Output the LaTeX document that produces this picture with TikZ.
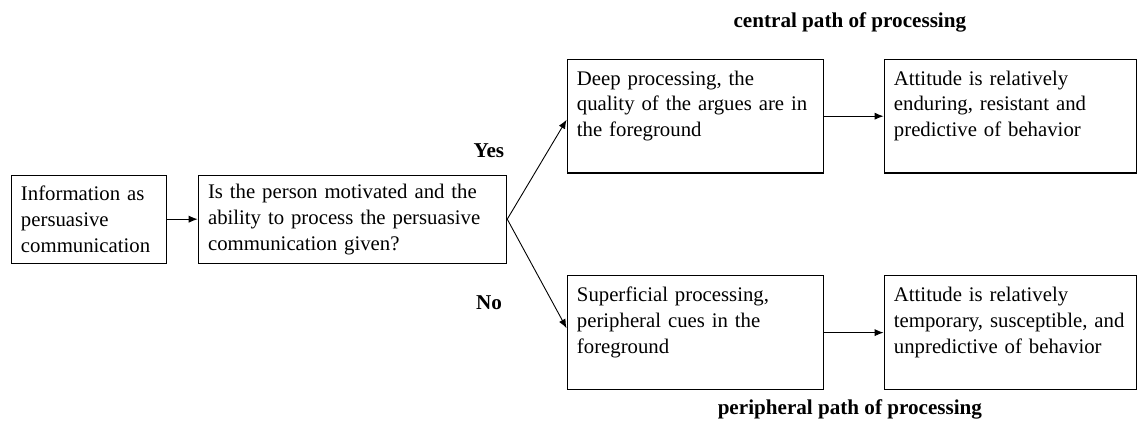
\documentclass[tikz,border=0pt]{standalone}
\usepackage{fontspec}
\setmainfont{Liberation Serif}
\usetikzlibrary{arrows.meta,positioning}

\begin{document}
\begin{tikzpicture}[
  box/.style={draw,line width=0.6pt,align=left,inner xsep=5.5pt,inner ysep=0pt,minimum height=1.727cm,font=\fontsize{11.6}{14.5}\selectfont},
  tall/.style={box,minimum height=2.23cm},
  lbl/.style={font=\fontsize{11.8}{14.5}\selectfont\bfseries},
  arr/.style={-{Latex[length=5pt,width=4pt]},line width=0.5pt}]
\useasboundingbox (0,0) rectangle (22.34,8.66);
\node[box,text width=2.67cm] (info) at (1.747,4.357) {Information as\\ persuasive\\ communication};
\node[box,text width=5.67cm] (ask) at (6.919,4.357) {Is the person motivated and the\\ ability to process the persuasive\\ communication given?};
\node[tall,text width=4.65cm] (deep) at (13.651,6.379) {Deep processing, the\\ quality of the argues are in\\ the foreground\\[-5pt] \strut};
\node[tall,text width=4.57cm] (lasting) at (19.834,6.379) {Attitude is relatively\\ enduring, resistant and\\ predictive of behavior\\[-5pt] \strut};
\node[tall,text width=4.65cm] (shallow) at (13.651,2.130) {Superficial processing,\\ peripheral cues in the\\ foreground\\[-5pt] \strut};
\node[tall,text width=4.57cm] (passing) at (19.834,2.130) {Attitude is relatively\\ temporary, susceptible, and\\ unpredictive of behavior\\[-5pt] \strut};
\node[lbl] (yes) at (9.598,5.692) {Yes};
\node[lbl] (no) at (9.598,2.709) {No};
\node[lbl] (central) at (16.684,8.224) {central path of processing};
\node[lbl] (periph) at (16.684,0.630) {peripheral path of processing};
\draw[arr] (info) -- (ask);
\draw[arr] (ask.east) -- ([yshift=-2pt]deep.west);
\draw[arr] (ask.east) -- ([yshift=2.5pt]shallow.west);
\draw[arr] (deep) -- (lasting);
\draw[arr] (shallow) -- (passing);
\end{tikzpicture}
\end{document}
